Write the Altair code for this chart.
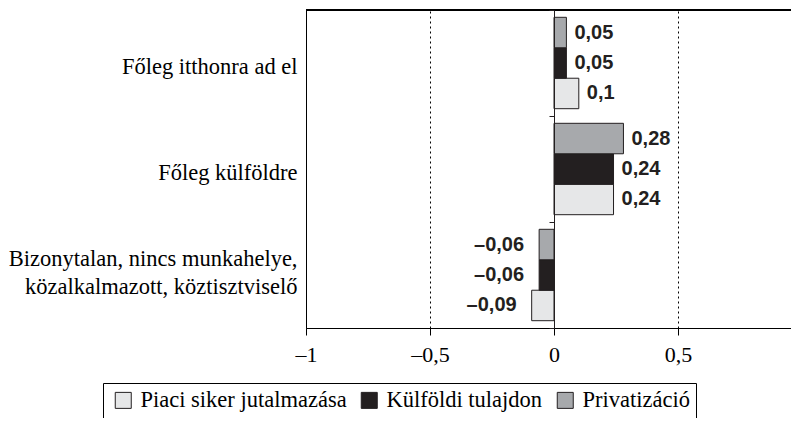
import altair as alt
import pandas as pd

categories = ["Főleg itthonra ad el", "Főleg külföldre",
              "Bizonytalan, nincs munkahelye,|közalkalmazott, köztisztviselő"]
series = ["Piaci siker jutalmazása", "Külföldi tulajdon", "Privatizáció"]
piaci = [0.1, 0.24, -0.09]
kulfoldi = [0.05, 0.24, -0.06]
privat = [0.05, 0.28, -0.06]
colors = ["#e6e7e8", "#231f20", "#a7a9ac"]
x_ticks = [-1, -0.5, 0, 0.5, 1]
x_domain = [-1, 0.9556]   # the right end of the original plot is cut off by the page edge
offset_order = ["Privatizáció", "Külföldi tulajdon", "Piaci siker jutalmazása"]

rows = []
for s, vals in zip(series, [piaci, kulfoldi, privat]):
    for c, v in zip(categories, vals):
        lab = ("–" if v < 0 else "") + f"{abs(v):g}".replace(".", ",")
        rows.append({"cat": c, "series": s, "value": v, "label": lab})
df = pd.DataFrame(rows)

SERIF = "Liberation Serif, Times New Roman, Times, serif"
SANS = "Liberation Sans, Arial, Helvetica, sans-serif"

y_scale = alt.Scale(domain=categories, paddingInner=0, paddingOuter=0)
yoff = alt.YOffset("series:N", scale=alt.Scale(domain=offset_order, paddingInner=0, paddingOuter=0.24))
x_scale = alt.Scale(domain=x_domain, nice=False, zero=False)

x_axis = alt.Axis(
    title=None, values=x_ticks, grid=True, gridDash=[2, 3], gridColor="black", gridWidth=1,
    labelExpr="(datum.value < 0 ? '–' : '') + replace(format(abs(datum.value), ''), '.', ',')",
    labelFont=SERIF, labelFontSize=22, labelColor="black", labelPadding=9,
    tickSize=7, tickColor="black", domainColor="black", labelFlush=False, labelOverlap=False,
)
y_axis = alt.Axis(
    title=None, ticks=False, domainColor="black", labelFont=SERIF, labelFontSize=22.5,
    labelColor="black", labelLimit=400, labelPadding=9, labelLineHeight=28,
    labelOffset=alt.expr("indexof(datum.value, '|') >= 0 ? -16 : 4"),
    labelExpr="split(datum.label, '|')",
)

bars = alt.Chart(df).mark_bar(stroke="#231f20", strokeWidth=1).encode(
    x=alt.X("value:Q", scale=x_scale, axis=x_axis),
    y=alt.Y("cat:N", scale=y_scale, axis=y_axis),
    yOffset=yoff,
    color=alt.Color("series:N", scale=alt.Scale(domain=series, range=colors),
                    legend=alt.Legend(
                        title=None, orient="none", legendX=-203, legendY=373,
                        direction="horizontal", strokeColor="black", fillColor="white",
                        padding=6, symbolOffset=3, symbolType="square", symbolSize=256,
                        symbolStrokeColor="#231f20", symbolStrokeWidth=1,
                        labelFont=SERIF, labelFontSize=22.5, labelColor="black",
                        labelOffset=6, columnPadding=8, labelLimit=400)),
)

text_pos = alt.Chart(df).transform_filter("datum.value >= 0").mark_text(
    align="left", baseline="middle", dx=8, font=SANS, fontWeight="bold", fontSize=20, color="#231f20"
).encode(x=alt.X("value:Q", scale=x_scale), y=alt.Y("cat:N", scale=y_scale), yOffset=yoff, text="label:N")

text_neg = alt.Chart(df).transform_filter("datum.value < 0").mark_text(
    align="right", baseline="middle", dx=-15, font=SANS, fontWeight="bold", fontSize=20, color="#231f20"
).encode(x=alt.X("value:Q", scale=x_scale), y=alt.Y("cat:N", scale=y_scale), yOffset=yoff, text="label:N")

# top frame line of the plot area
top_line = alt.Chart(df).mark_rule(color="black", strokeWidth=1).encode(
    x=alt.datum(x_domain[0], scale=x_scale),
    x2=alt.datum(x_domain[1]),
    y=alt.value(0),
)

zero = alt.Chart(df).mark_point(opacity=0).encode(
    x=alt.datum(0, scale=x_scale),
    y=alt.Y("cat:N", scale=y_scale, axis=alt.Axis(
        orient="left", title=None, labels=False, offset=-248, tickBand="extent", tickSize=5,
        tickColor="#231f20", domainColor="#231f20", zindex=1)),
)

chart = alt.layer(bars, text_pos, text_neg, top_line, zero).resolve_axis(
    y="independent"
).properties(
    width=485, height=318,
    autosize=alt.AutoSizeParams(type="none"),
    padding={"left": 298, "top": 2, "right": 0, "bottom": 90},
).configure_view(strokeWidth=0)

chart.save("out.html", embed_options={"renderer": "svg", "actions": False})
